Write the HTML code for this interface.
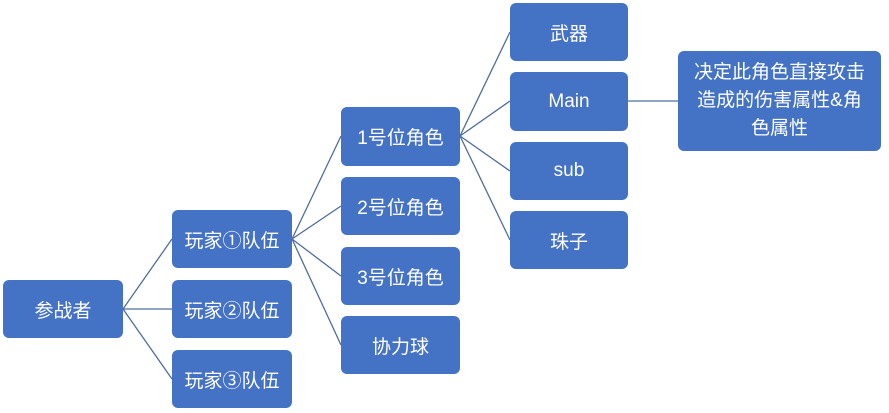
<!DOCTYPE html>
<html><head><meta charset="utf-8"><style>
body{margin:0;width:889px;height:413px;background:#fff;overflow:hidden;position:relative;font-family:"Liberation Sans","Noto Sans CJK SC",sans-serif}
.b{position:absolute;background:#4472C4;border-radius:6px;color:#fff;display:flex;align-items:center;justify-content:center;text-align:center;font-size:19px;box-sizing:border-box}
svg{position:absolute;left:0;top:0}
</style></head><body>
<svg width="889" height="413"><g stroke="#4f6d9c" stroke-width="1.3" fill="none">
<line x1="123" y1="309" x2="172" y2="239"/><line x1="123" y1="309" x2="172" y2="309"/><line x1="123" y1="309" x2="172" y2="379"/>
<line x1="292" y1="239" x2="341" y2="136"/><line x1="292" y1="239" x2="341" y2="206"/><line x1="292" y1="239" x2="341" y2="276"/><line x1="292" y1="239" x2="341" y2="345"/>
<line x1="460" y1="136" x2="510" y2="32"/><line x1="460" y1="136" x2="510" y2="101"/><line x1="460" y1="136" x2="510" y2="171"/><line x1="460" y1="136" x2="510" y2="240"/>
<line x1="628" y1="101" x2="678" y2="101"/></g></svg>
<div class="b" style="left:3px;top:280px;width:120px;height:58px">参战者</div>
<div class="b" style="left:172px;top:210px;width:120px;height:58px">玩家①队伍</div>
<div class="b" style="left:172px;top:280px;width:120px;height:58px">玩家②队伍</div>
<div class="b" style="left:172px;top:350px;width:120px;height:58px">玩家③队伍</div>
<div class="b" style="left:341px;top:107px;width:119px;height:59px">1号位角色</div>
<div class="b" style="left:341px;top:177px;width:119px;height:58px">2号位角色</div>
<div class="b" style="left:341px;top:247px;width:119px;height:58px">3号位角色</div>
<div class="b" style="left:341px;top:316px;width:119px;height:58px">协力球</div>
<div class="b" style="left:510px;top:3px;width:118px;height:58px">武器</div>
<div class="b" style="left:510px;top:72px;width:118px;height:59px">Main</div>
<div class="b" style="left:510px;top:142px;width:118px;height:58px">sub</div>
<div class="b" style="left:510px;top:211px;width:118px;height:58px">珠子</div>
<div class="b" style="left:678px;top:51px;width:203px;height:100px;font-size:19px;line-height:28px">决定此角色直接攻击<br>造成的伤害属性&amp;角<br>色属性</div>
</body></html>
